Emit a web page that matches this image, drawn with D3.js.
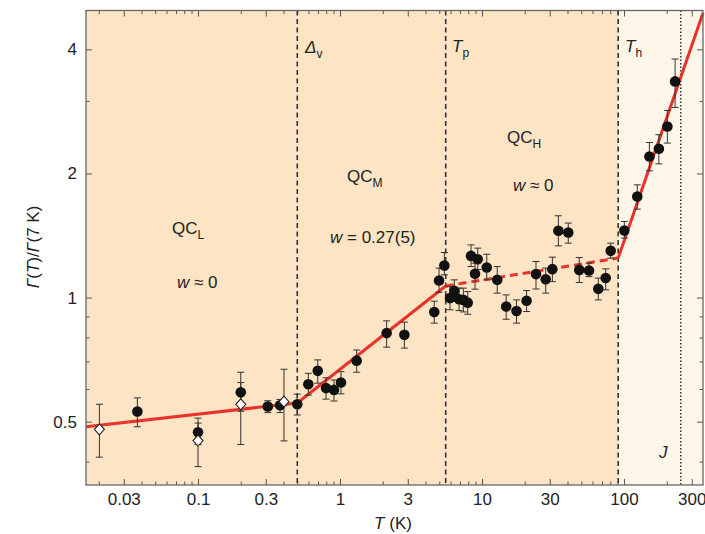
<!DOCTYPE html>
<html>
<head>
<meta charset="utf-8">
<script src="https://cdn.jsdelivr.net/npm/d3@7"></script>
<style>
	body { margin: 0; background: #fff; }
	svg text { font-family: 'Liberation Sans', Arial, sans-serif; fill: #222; }
	.tick text { font-size: 17px; }
</style>
</head>
<body>
<div id="chart"></div>
<script>
// filled circles: temperature (K), relaxation rate ratio, lower and upper error
var dotT = [0.0374, 0.1, 0.2, 0.31, 0.378, 0.5, 0.598, 0.697, 0.797, 0.907, 1.016, 1.31,
	2.13, 2.84, 4.61, 4.98, 5.43, 5.95, 6.38, 6.89, 7.39, 7.93, 8.37, 8.93, 9.33, 10.8,
	12.8, 14.8, 17.5, 20.6, 24.0, 28.1, 31.3, 34.5, 40.5, 48.4, 56.7, 65.9, 74.3, 80.6,
	100.5, 124, 151, 176, 202, 229];
var dotG = [0.529, 0.471, 0.589, 0.544, 0.548, 0.551, 0.616, 0.664, 0.603, 0.597, 0.622, 0.703,
	0.82, 0.812, 0.922, 1.10, 1.196, 0.997, 1.038, 0.991, 0.987, 0.972, 1.262, 1.142, 1.239, 1.183,
	1.104, 0.951, 0.928, 0.982, 1.14, 1.108, 1.172, 1.452, 1.438, 1.167, 1.163, 1.05, 1.115, 1.298,
	1.454, 1.758, 2.199, 2.296, 2.6, 3.345];
var dotLo = [0.486, 0.44, 0.53, 0.526, 0.526, 0.519, 0.58, 0.62, 0.567, 0.561, 0.584, 0.659,
	0.758, 0.754, 0.867, 1.03, 1.135, 0.934, 0.978, 0.93, 0.923, 0.911, 1.189, 1.048, 1.17, 1.104,
	1.025, 0.886, 0.867, 0.925, 1.049, 1.025, 1.093, 1.335, 1.355, 1.088, 1.124, 0.987, 1.044, 1.246,
	1.394, 1.639, 2.03, 2.11, 2.37, 2.892];
var dotHi = [0.571, 0.51, 0.659, 0.562, 0.566, 0.583, 0.655, 0.706, 0.639, 0.631, 0.661, 0.746,
	0.878, 0.872, 0.98, 1.179, 1.286, 1.063, 1.104, 1.054, 1.054, 1.034, 1.342, 1.212, 1.318, 1.274,
	1.189, 1.015, 0.987, 1.04, 1.223, 1.179, 1.253, 1.579, 1.516, 1.251, 1.212, 1.115, 1.174, 1.355,
	1.53, 1.877, 2.378, 2.483, 2.844, 3.79];

// open diamonds
var diaT = [0.0202, 0.1, 0.2, 0.403];
var diaG = [0.479, 0.45, 0.551, 0.559];
var diaLo = [0.41, 0.389, 0.44, 0.449];
var diaHi = [0.551, 0.496, 0.622, 0.67];

// red fit: solid, dashed, solid
var fitT = [0.0163, 0.5, 5.55, 91, 360];
var fitG = [0.486, 0.555, 1.067, 1.247, 4.9];

// crossovers
var crossT = [0.5, 5.55, 91];
var jT = 251;

var xMajor = [0.03, 0.1, 0.3, 1, 3, 10, 30, 100, 300];
var xLabels = ['0.03', '0.1', '0.3', '1', '3', '10', '30', '100', '300'];
var yMajor = [0.5, 1, 2, 4];
var yLabels = ['0.5', '1', '2', '4'];

var width = 705, height = 534;
var margin = {left: 86, right: 2, top: 10.5, bottom: 49};

var x = d3.scaleLog().domain([0.01626, 360]).range([margin.left, width - margin.right]);
var y = d3.scaleLog().domain([0.351, 4.97]).range([height - margin.bottom, margin.top]);

var x0 = x.range()[0], x1 = x.range()[1];
var y0 = y.range()[0], y1 = y.range()[1];

var svg = d3.select('#chart').append('svg')
	.attr('width', width)
	.attr('height', height);

// shaded regimes
svg.append('rect')
	.attr('x', x0).attr('y', y1)
	.attr('width', x(crossT[2]) - x0).attr('height', y0 - y1)
	.attr('fill', '#fde4c4');
svg.append('rect')
	.attr('x', x(crossT[2])).attr('y', y1)
	.attr('width', x1 - x(crossT[2])).attr('height', y0 - y1)
	.attr('fill', '#fff6ea');

// minor tick values
var xMinor = [], yMinor = [];
[-2, -1, 0, 1, 2].forEach(function(e) {
	for (var k = 1; k < 10; k++) {
		var v = k * Math.pow(10, e);
		if (v > 0.0163 && v < 360 && xMajor.indexOf(+v.toPrecision(3)) < 0) xMinor.push(v);
	}
});
[-1, 0].forEach(function(e) {
	for (var k = 1; k < 10; k++) {
		var v = +(k * Math.pow(10, e)).toPrecision(3);
		if (v > 0.351 && v < 4.97 && yMajor.indexOf(v) < 0) yMinor.push(v);
	}
});

function styleAxis(g) {
	g.select('.domain').remove();
	g.selectAll('.tick line').attr('stroke', '#555');
}

// bottom / top
svg.append('g').attr('transform', 'translate(0,' + y0 + ')')
	.call(d3.axisBottom(x).tickValues(xMajor).tickSize(-6).tickPadding(8)
		.tickFormat(function(d, i) { return xLabels[i]; }))
	.call(styleAxis);
svg.append('g').attr('transform', 'translate(0,' + y0 + ')')
	.call(d3.axisBottom(x).tickValues(xMinor).tickSize(-3.5).tickFormat(''))
	.call(styleAxis);
svg.append('g').attr('transform', 'translate(0,' + y1 + ')')
	.call(d3.axisTop(x).tickValues(xMajor).tickSize(-6).tickFormat(''))
	.call(styleAxis);
svg.append('g').attr('transform', 'translate(0,' + y1 + ')')
	.call(d3.axisTop(x).tickValues(xMinor).tickSize(-3.5).tickFormat(''))
	.call(styleAxis);

// left / right
svg.append('g').attr('transform', 'translate(' + x0 + ',0)')
	.call(d3.axisLeft(y).tickValues(yMajor).tickSize(-6).tickPadding(9)
		.tickFormat(function(d, i) { return yLabels[i]; }))
	.call(styleAxis);
svg.append('g').attr('transform', 'translate(' + x0 + ',0)')
	.call(d3.axisLeft(y).tickValues(yMinor).tickSize(-3.5).tickFormat(''))
	.call(styleAxis);
svg.append('g').attr('transform', 'translate(' + x1 + ',0)')
	.call(d3.axisRight(y).tickValues(yMajor).tickSize(-6).tickFormat(''))
	.call(styleAxis);
svg.append('g').attr('transform', 'translate(' + x1 + ',0)')
	.call(d3.axisRight(y).tickValues(yMinor).tickSize(-3.5).tickFormat(''))
	.call(styleAxis);

// crossover lines
svg.selectAll('.cross')
	.data(crossT).enter()
	.append('line')
	.attr('x1', function(d) { return x(d); })
	.attr('x2', function(d) { return x(d); })
	.attr('y1', y1).attr('y2', y0)
	.attr('stroke', '#333')
	.attr('stroke-width', 1.6)
	.attr('stroke-dasharray', '5,3.5');

svg.append('line')
	.attr('x1', x(jT)).attr('x2', x(jT))
	.attr('y1', y1).attr('y2', y0)
	.attr('stroke', '#333')
	.attr('stroke-width', 1.5)
	.attr('stroke-dasharray', '1.5,2');

// fit lines
var fit = fitT.map(function(t, i) { return [t, fitG[i]]; });
var line = d3.line()
	.x(function(d) { return x(d[0]); })
	.y(function(d) { return y(d[1]); });

svg.append('path')
	.datum(fit.slice(0, 3))
	.attr('d', line)
	.attr('fill', 'none').attr('stroke', '#e8332b').attr('stroke-width', 3);
svg.append('path')
	.datum(fit.slice(2, 4))
	.attr('d', line)
	.attr('fill', 'none').attr('stroke', '#e8332b').attr('stroke-width', 3)
	.attr('stroke-dasharray', '8,5');
svg.append('path')
	.datum(fit.slice(3, 5))
	.attr('d', line)
	.attr('fill', 'none').attr('stroke', '#e8332b').attr('stroke-width', 3);

// error bars
function errorBars(ts, lo, hi) {
	var g = svg.append('g').attr('stroke', '#333').attr('stroke-width', 1);
	ts.forEach(function(t, i) {
		var cx = x(t);
		g.append('line').attr('x1', cx).attr('x2', cx).attr('y1', y(lo[i])).attr('y2', y(hi[i]));
		g.append('line').attr('x1', cx - 3.5).attr('x2', cx + 3.5).attr('y1', y(lo[i])).attr('y2', y(lo[i]));
		g.append('line').attr('x1', cx - 3.5).attr('x2', cx + 3.5).attr('y1', y(hi[i])).attr('y2', y(hi[i]));
	});
}
errorBars(dotT, dotLo, dotHi);
errorBars(diaT, diaLo, diaHi);

svg.selectAll('.dot')
	.data(dotT).enter()
	.append('circle')
	.attr('cx', function(d) { return x(d); })
	.attr('cy', function(d, i) { return y(dotG[i]); })
	.attr('r', 5.3)
	.attr('fill', '#111');

svg.selectAll('.dia')
	.data(diaT).enter()
	.append('path')
	.attr('transform', function(d, i) { return 'translate(' + x(d) + ',' + y(diaG[i]) + ')'; })
	.attr('d', 'M0,-5.5L5,0L0,5.5L-5,0Z')
	.attr('fill', '#fff')
	.attr('stroke', '#222')
	.attr('stroke-width', 1.1);

// frame
svg.append('rect')
	.attr('x', x0).attr('y', y1)
	.attr('width', x1 - x0).attr('height', y0 - y1)
	.attr('fill', 'none')
	.attr('stroke', '#666')
	.attr('stroke-width', 1.3);

// annotations
function label(px, py, parts) {
	var t = svg.append('text').attr('x', px).attr('y', py).style('font-size', '17px');
	parts.forEach(function(p) {
		var s = t.append('tspan').text(p.text);
		if (p.italic) s.style('font-style', 'italic');
		if (p.sub) s.style('font-size', '12px').attr('dy', 5);
	});
	return t;
}

label(172, 234, [{text: 'QC'}, {text: 'L', sub: true}]);
label(177, 288, [{text: 'w', italic: true}, {text: ' ≈ 0'}]);
label(347, 182, [{text: 'QC'}, {text: 'M', sub: true}]);
label(330, 243, [{text: 'w', italic: true}, {text: ' = 0.27(5)'}]);
label(507, 143, [{text: 'QC'}, {text: 'H', sub: true}]);
label(513, 191, [{text: 'w', italic: true}, {text: ' ≈ 0'}]);
label(305, 53, [{text: 'Δ', italic: true}, {text: 'v', sub: true}]);
label(452, 52, [{text: 'T', italic: true}, {text: 'p', sub: true}]);
label(625, 52, [{text: 'T', italic: true}, {text: 'h', sub: true}]);
label(659, 458, [{text: 'J', italic: true}]);

// axis titles
var xt = svg.append('text')
	.attr('x', 393).attr('y', 529)
	.attr('text-anchor', 'middle')
	.style('font-size', '17px');
xt.append('tspan').text('T').style('font-style', 'italic');
xt.append('tspan').text(' (K)');

var yt = svg.append('text')
	.attr('transform', 'translate(39,247) rotate(-90)')
	.attr('text-anchor', 'middle')
	.style('font-size', '17px');
yt.append('tspan').text('Γ').style('font-style', 'italic');
yt.append('tspan').text('(');
yt.append('tspan').text('T').style('font-style', 'italic');
yt.append('tspan').text(')/');
yt.append('tspan').text('Γ').style('font-style', 'italic');
yt.append('tspan').text('(7 K)');
</script>
</body>
</html>
